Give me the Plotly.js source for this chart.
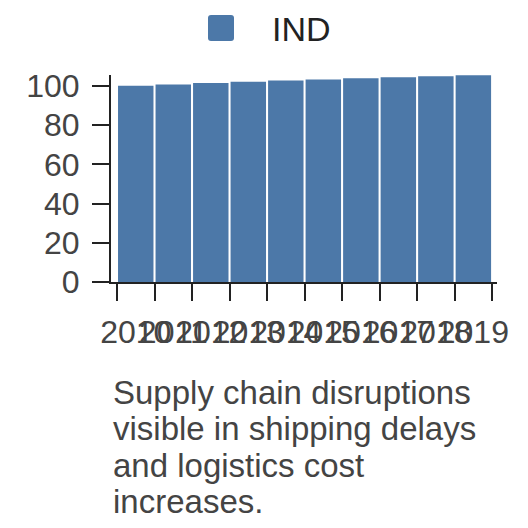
<!DOCTYPE html>
<html>
<head>
<meta charset="utf-8">
<script src="https://cdn.plot.ly/plotly-3.0.1.min.js"></script>
<style>html,body{margin:0;padding:0;background:#fff;}#chart{width:528px;height:528px;}</style>
</head>
<body>
<div id="chart"></div>
<script>
var years = ["2010","2011","2012","2013","2014","2015","2016","2017","2018","2019"];
var values = [100.1, 100.8, 101.5, 102.2, 102.8, 103.3, 103.9, 104.4, 105.0, 105.5];
var seriesName = "IND";
var yTicks = [0, 20, 40, 60, 80, 100];
var noteLines = ["Supply chain disruptions", "visible in shipping delays", "and logistics cost", "increases."];

var barColor = "#4c78a8";
var font = "Liberation Sans, Arial, sans-serif";

var trace = {
  type: "bar",
  x: years,
  y: values,
  name: seriesName,
  marker: {color: barColor, line: {width: 0}},
  showlegend: false,
  hoverinfo: "x+y"
};

var L = 111, W = 386, T = 75, H = 207;
function px(x){ return (x - L) / W; }
function py(y){ return (T + H - y) / H; }

var layout = {
  width: 528, height: 528,
  margin: {l: L, r: 528 - L - W, t: T, b: 528 - T - H, pad: 0},
  paper_bgcolor: "#fff", plot_bgcolor: "#fff",
  bargap: 0.055,
  font: {family: font, color: "#444"},
  xaxis: {
    type: "category",
    range: [-0.66, 9.63],
    tickmode: "linear", tick0: 0, dtick: 1,
    tickson: "boundaries",
    ticks: "outside", ticklen: 17, tickwidth: 2, tickcolor: "#222",
    ticklabelstandoff: 21,
    showline: true, linewidth: 2, linecolor: "#222",
    showgrid: false, zeroline: false,
    tickangle: 0,
    tickfont: {size: 32, color: "#444", family: font}
  },
  yaxis: {
    range: [0, 105.6],
    tickvals: yTicks,
    ticktext: yTicks.map(String),
    ticks: "outside", ticklen: 17, tickwidth: 2, tickcolor: "#222",
    ticklabelstandoff: 6,
    showline: true, linewidth: 2, linecolor: "#222",
    showgrid: false, zeroline: false,
    tickfont: {size: 32, color: "#444", family: font}
  },
  shapes: [],
  annotations: []
};

// note lines (fixed line spacing)
var noteSize = 33;
noteLines.forEach(function(line, i){
  var baseline = 403 + 36.2 * i;
  var top = baseline - 0.905 * noteSize - 1;
  layout.annotations.push({
    xref: "paper", yref: "paper",
    x: 0, y: py(top), xanchor: "left", yanchor: "top", align: "left",
    text: line, showarrow: false,
    font: {size: noteSize, color: "#444", family: font}
  });
});

// legend label
layout.annotations.push({
  xref: "paper", yref: "paper",
  x: px(270), y: py(29), xanchor: "left", yanchor: "middle",
  text: seriesName, showarrow: false,
  font: {size: 34, color: "#222", family: font}
});

// legend swatch: rounded square
(function(){
  var x0 = 208, x1 = 234, y0 = 15, y1 = 41, r = 3;
  var p = "M" + px(x0 + r) + "," + py(y0) +
    " L" + px(x1 - r) + "," + py(y0) +
    " Q" + px(x1) + "," + py(y0) + " " + px(x1) + "," + py(y0 + r) +
    " L" + px(x1) + "," + py(y1 - r) +
    " Q" + px(x1) + "," + py(y1) + " " + px(x1 - r) + "," + py(y1) +
    " L" + px(x0 + r) + "," + py(y1) +
    " Q" + px(x0) + "," + py(y1) + " " + px(x0) + "," + py(y1 - r) +
    " L" + px(x0) + "," + py(y0 + r) +
    " Q" + px(x0) + "," + py(y0) + " " + px(x0 + r) + "," + py(y0) + " Z";
  layout.shapes.push({type: "path", xref: "paper", yref: "paper", path: p,
    fillcolor: barColor, line: {width: 0}});
})();

Plotly.newPlot("chart", [trace], layout, {displayModeBar: false, staticPlot: true});
</script>
</body>
</html>
